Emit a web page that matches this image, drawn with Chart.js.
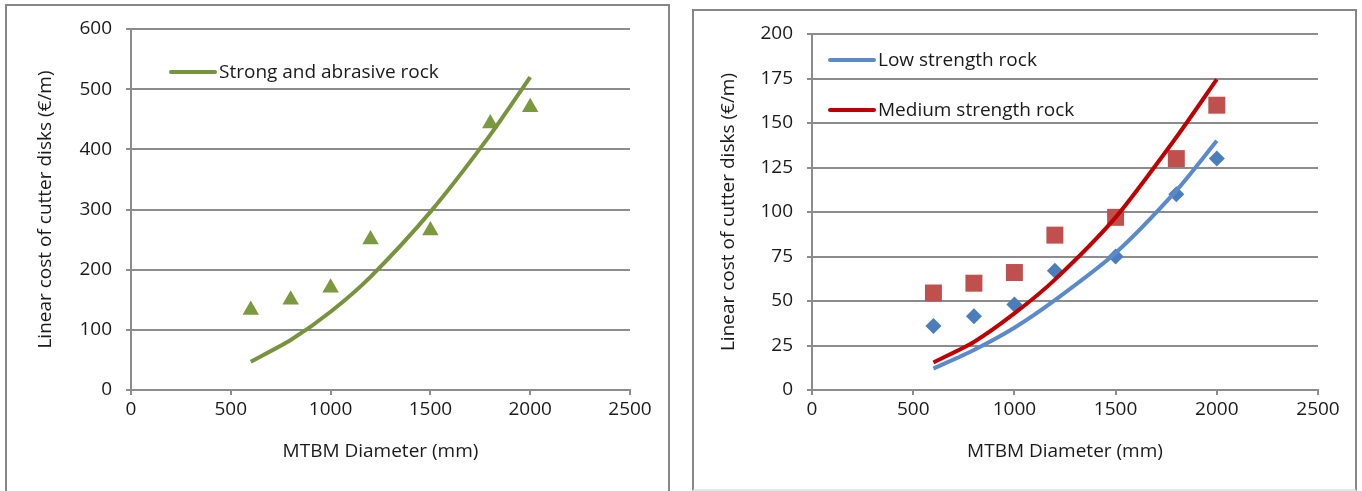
<!DOCTYPE html>
<html>
<head>
<meta charset="utf-8">
<script src="https://cdn.jsdelivr.net/npm/chart.js@4.4.1/dist/chart.umd.min.js"></script>
<style>
  html, body { margin: 0; padding: 0; background: #fff; }
  body { width: 1362px; height: 491px; position: relative; overflow: hidden; }
  canvas { position: absolute; top: 0; }
  #left { left: 0; }
  #right { left: 683px; }
  .frame { position: absolute; border: 2px solid #878787; pointer-events: none; box-sizing: border-box; }
  #frame-left { left: 5px; top: 4px; width: 665px; height: 500px; }
  #frame-right { left: 692px; top: 9px; width: 665px; height: 482px; border-bottom-color: #e6e6e6; }
</style>
</head>
<body>
<canvas id="left" width="683" height="491"></canvas>
<canvas id="right" width="679" height="491"></canvas>
<div class="frame" id="frame-left"></div>
<div class="frame" id="frame-right"></div>
<script>
// MTBM diameters where each cost was evaluated
const diameters = [600, 800, 1000, 1200, 1500, 1800, 2000];

// left panel: strong and abrasive rock
const strongModel = [47, 83, 130, 188, 296, 424, 520];
const strongMeasured = [133, 150, 170, 250, 265, 443, 470];

// right panel: low / medium strength rock
const lowModel = [12, 22.5, 35, 50.5, 77, 112, 140];
const mediumModel = [15.5, 27, 43, 62, 97, 142, 174.5];
const lowMeasured = [36, 41.5, 48, 67, 75, 110, 130];
const mediumMeasured = [54.5, 60, 66, 87, 97, 130, 160];

const xTicks = [0, 500, 1000, 1500, 2000, 2500];
const leftYTicks = [0, 100, 200, 300, 400, 500, 600];
const rightYTicks = [0, 25, 50, 75, 100, 125, 150, 175, 200];

const FONT = "'Open Sans', sans-serif";
const SIZE = 19;
const GRID = "#8c8c8c";
const TEXT = "#1a1a1a";

const pts = (ys) => diameters.map((x, i) => ({ x, y: ys[i] }));

// Legend drawn inside the plot area, like the spreadsheet original
const insideLegend = {
  id: "insideLegend",
  afterDraw(chart, args, opts) {
    const ctx = chart.ctx;
    ctx.save();
    ctx.font = `${SIZE}px ${FONT}`;
    ctx.textBaseline = "middle";
    opts.items.forEach((it) => {
      const ds = chart.data.datasets[it.dataset];
      ctx.strokeStyle = ds.borderColor;
      ctx.lineWidth = 4;
      ctx.lineCap = "round";
      ctx.beginPath();
      ctx.moveTo(it.x, it.y);
      ctx.lineTo(it.x + 44, it.y);
      ctx.stroke();
      ctx.fillStyle = TEXT;
      ctx.fillText(ds.label, it.x + 48, it.y + 1);
    });
    ctx.restore();
  },
};

function axes(yMax, yTicks, yWidth) {
  return {
    x: {
      type: "linear",
      min: 0, max: 2500,
      afterBuildTicks: (s) => { s.ticks = xTicks.map((v) => ({ value: v })); },
      afterFit: (s) => { s.height = 101; },
      grid: { drawOnChartArea: false, drawTicks: true, tickLength: 5, color: GRID, lineWidth: 2 },
      border: { display: true, color: GRID, width: 2 },
      ticks: { color: TEXT, font: { family: FONT, size: SIZE }, padding: 3, maxRotation: 0, callback: (v) => String(v) },
      title: { display: true, text: "MTBM Diameter (mm)", color: TEXT, font: { family: FONT, size: SIZE }, padding: { top: 0, bottom: 28 } },
    },
    y: {
      type: "linear",
      min: 0, max: yMax,
      afterBuildTicks: (s) => { s.ticks = yTicks.map((v) => ({ value: v })); },
      afterFit: (s) => { s.width = yWidth; },
      grid: { color: GRID, lineWidth: 2, tickLength: 5 },
      border: { display: true, color: GRID, width: 2 },
      ticks: { color: TEXT, font: { family: FONT, size: SIZE }, padding: 14, callback: (v) => String(v) },
      title: { display: true, text: "Linear cost of cutter disks (€/m)", color: TEXT, font: { family: FONT, size: SIZE }, padding: { top: 34, bottom: 0 } },
    },
  };
}

const common = {
  responsive: false,
  animation: false,
  devicePixelRatio: 1,
  plugins: { legend: { display: false }, tooltip: { enabled: false } },
};

new Chart(document.getElementById("left"), {
  type: "scatter",
  data: {
    datasets: [
      {
        label: "Strong and abrasive rock",
        data: pts(strongModel),
        showLine: true,
        borderColor: "#77933c",
        borderWidth: 4,
        tension: 0.25,
        pointRadius: 0,
      },
      {
        label: "Strong and abrasive rock (measured)",
        data: pts(strongMeasured),
        pointStyle: "triangle",
        pointRadius: 9.5,
        backgroundColor: "#7b9a40",
        borderColor: "#7b9a40",
        borderWidth: 0,
      },
    ],
  },
  options: {
    ...common,
    layout: { padding: { left: 0, right: 53, top: 29, bottom: 0 } },
    scales: axes(600, leftYTicks, 131),
    plugins: { ...common.plugins, insideLegend: { items: [{ dataset: 0, x: 171, y: 72 }] } },
  },
  plugins: [insideLegend],
});

new Chart(document.getElementById("right"), {
  type: "scatter",
  data: {
    datasets: [
      {
        label: "Low strength rock",
        data: pts(lowModel),
        showLine: true,
        borderColor: "#5a8acb",
        borderWidth: 4,
        tension: 0.25,
        pointRadius: 0,
      },
      {
        label: "Medium strength rock",
        data: pts(mediumModel),
        showLine: true,
        borderColor: "#c00000",
        borderWidth: 4,
        tension: 0.25,
        pointRadius: 0,
      },
      {
        label: "Low strength rock (measured)",
        data: pts(lowMeasured),
        pointStyle: "rectRot",
        pointRadius: 8,
        backgroundColor: "#4a7ebb",
        borderWidth: 0,
      },
      {
        label: "Medium strength rock (measured)",
        data: pts(mediumMeasured),
        pointStyle: "rect",
        pointRadius: 12,
        backgroundColor: "#c0504d",
        borderWidth: 0,
      },
    ],
  },
  options: {
    ...common,
    layout: { padding: { left: 0, right: 44, top: 34, bottom: 0 } },
    scales: axes(200, rightYTicks, 129),
    plugins: {
      ...common.plugins,
      insideLegend: { items: [{ dataset: 0, x: 147, y: 60 }, { dataset: 1, x: 147, y: 110 }] },
    },
  },
  plugins: [insideLegend],
});
</script>
</body>
</html>
